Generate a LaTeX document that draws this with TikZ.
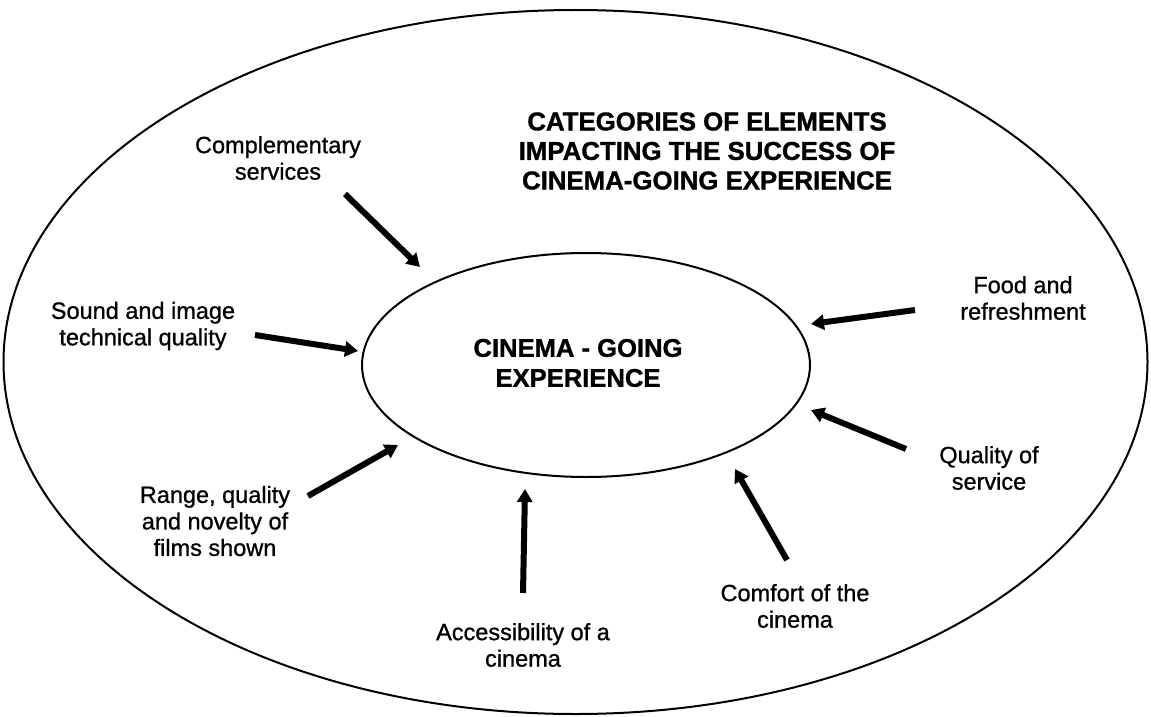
\documentclass[tikz,border=0pt]{standalone}
\usepackage{fontspec}
\setmainfont{Liberation Sans}
\newfontfamily\lblfont[RawFeature={embolden=0.9}]{Liberation Sans}
\newfontfamily\ttlfont[RawFeature={embolden=1.2}]{Liberation Sans Bold}
\usetikzlibrary{arrows.meta,shapes.geometric}
\tikzset{
  lbl/.style={align=center,font=\lblfont\fontsize{23.5}{26.5}\selectfont,inner sep=0pt},
  ttl/.style={align=center,font=\ttlfont\fontsize{25.8}{29.5}\selectfont,inner sep=0pt},
  bigarrow/.style={line width=6pt,-{Triangle[length=13pt,width=15pt]}},
  ring/.style={line width=2pt}
}
\begin{document}
\begin{tikzpicture}[x=1pt,y=-1pt]
\useasboundingbox (0,0) rectangle (1151,717);
\fill[white] (0,0) rectangle (1151,717);
% outer and inner ellipses
\node[ring,draw,ellipse,minimum width=1144pt,minimum height=704pt,inner sep=0pt] (outer) at (575.5,362) {};
\node[ring,draw,ellipse,minimum width=448pt,minimum height=224pt,inner sep=0pt] (inner) at (586,365) {};
% texts
\node[ttl] (title) at (707,151) {CATEGORIES OF ELEMENTS\\IMPACTING THE SUCCESS OF\\CINEMA-GOING EXPERIENCE};
\node[ttl,font=\ttlfont\fontsize{25.6}{30}\selectfont] (centre) at (578,363) {CINEMA - GOING\\EXPERIENCE};
\node[lbl] (comp) at (278,158) {Complementary\\services};
\node[lbl] (sound) at (143,326) {Sound and image\\technical quality};
\node[lbl] (range) at (215,521) {Range, quality\\and novelty of\\films shown};
\node[lbl] (access) at (523,645) {Accessibility of a\\cinema};
\node[lbl] (comfort) at (795,606) {Comfort of the\\cinema};
\node[lbl] (quality) at (989,468) {Quality of\\service};
\node[lbl] (food) at (1023,298) {Food and\\refreshment};
% arrow end points
\coordinate (compT) at (345,194);   \coordinate (compH) at (420,267);
\coordinate (soundT) at (255,335);  \coordinate (soundH) at (358,351);
\coordinate (rangeT) at (308,496);  \coordinate (rangeH) at (398,445);
\coordinate (accT) at (523,593);    \coordinate (accH) at (525,489);
\coordinate (comfT) at (787,560);   \coordinate (comfH) at (735,469);
\coordinate (qualT) at (906,449);   \coordinate (qualH) at (811,410);
\coordinate (foodT) at (915,310);   \coordinate (foodH) at (811,324);
\draw[bigarrow] (compT) -- (compH);
\draw[bigarrow] (soundT) -- (soundH);
\draw[bigarrow] (rangeT) -- (rangeH);
\draw[bigarrow] (accT) -- (accH);
\draw[bigarrow] (comfT) -- (comfH);
\draw[bigarrow] (qualT) -- (qualH);
\draw[bigarrow] (foodT) -- (foodH);
\end{tikzpicture}
\end{document}
